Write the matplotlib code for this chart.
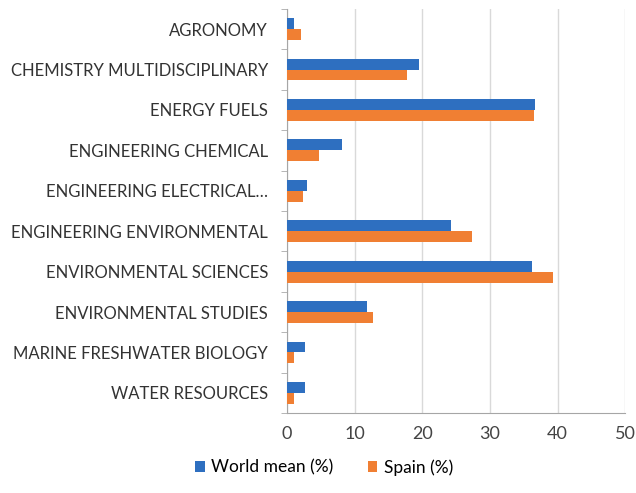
import numpy as np
from matplotlib import pyplot as plt

categories = [
    "AGRONOMY",
    "CHEMISTRY MULTIDISCIPLINARY",
    "ENERGY FUELS",
    "ENGINEERING CHEMICAL",
    "ENGINEERING ELECTRICAL…",
    "ENGINEERING ENVIRONMENTAL",
    "ENVIRONMENTAL SCIENCES",
    "ENVIRONMENTAL STUDIES",
    "MARINE FRESHWATER BIOLOGY",
    "WATER RESOURCES",
]
world_mean = [1.1, 19.5, 36.7, 8.1, 3.0, 24.2, 36.3, 11.8, 2.7, 2.7]
spain = [2.1, 17.8, 36.5, 4.7, 2.4, 27.4, 39.3, 12.8, 1.0, 1.0]

blue = "#2e6fc0"
orange = "#f07f33"

plt.rcParams['font.family'] = ['Lato', 'DejaVu Sans']

fig = plt.figure(figsize=(6.36, 4.93), dpi=100)
ax = fig.add_axes([0.451, 0.162, 0.532, 0.82])

y = np.arange(len(categories))
h = 0.27
ax.barh(y - h / 2, world_mean, height=h, color=blue, label="World mean (%)", zorder=3)
ax.barh(y + h / 2, spain, height=h, color=orange, label="Spain (%)", zorder=3)

ax.set_xlim(0, 50)
ax.set_ylim(len(categories) - 0.5, -0.5)
ax.set_xticks(np.arange(0, 51, 10))
ax.set_yticks(y)
ax.set_yticklabels(categories, fontsize=12, color="#333333")
ax.tick_params(axis="y", length=0, pad=13.5)
ax.tick_params(axis="x", length=0, labelsize=13, labelcolor="#444444", pad=9)

# small marks between categories
ax.set_yticks(np.arange(-0.5, len(categories), 1), minor=True)
ax.tick_params(axis="y", which="minor", length=4, color="#aaaaaa")

ax.grid(axis="x", color="#d9d9d9", linewidth=1, zorder=0)
for s in ["top", "right"]:
    ax.spines[s].set_visible(False)
for s in ["left", "bottom"]:
    ax.spines[s].set_color("#a6a6a6")

ax.legend(loc="upper center", bbox_to_anchor=(0.11, -0.075), ncol=2, frameon=False,
          fontsize=12.5, handlelength=0.55, handleheight=0.55, columnspacing=2.0,
          handletextpad=0.35)

fig.savefig("out.png", dpi=100)
